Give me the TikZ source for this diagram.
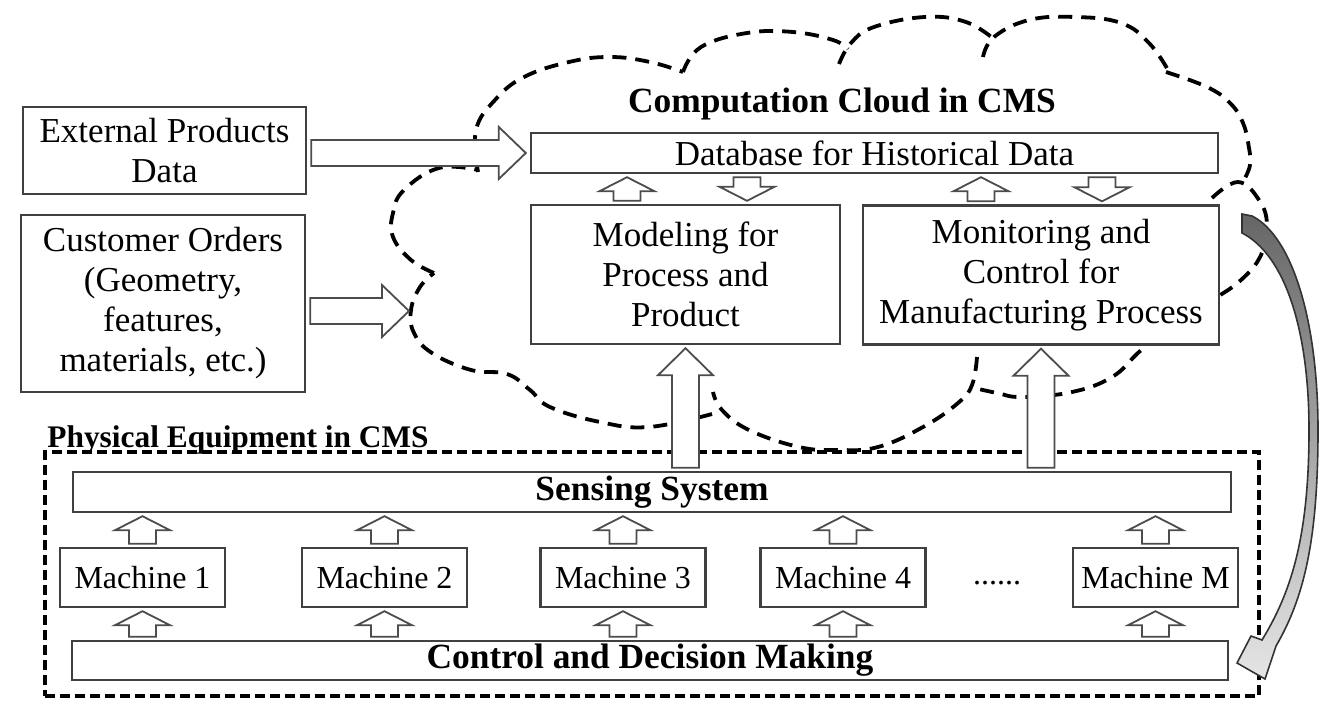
\documentclass[tikz,border=0pt]{standalone}
\usepackage{fontspec}
\setmainfont{Liberation Serif}
\usetikzlibrary{calc}
\newcommand{\harr}[2]{%
\draw[barrow] let \p1=#1, \p2=#2 in
 (\x1+2pt,\y2+6.5pt) -- (\x2-15.5pt,\y2+6.5pt) -- (\x2-15.5pt,\y2+13pt) -- (\x2-2pt,\y2)
 -- (\x2-15.5pt,\y2-13pt) -- (\x2-15.5pt,\y2-6.5pt) -- (\x1+2pt,\y2-6.5pt) -- cycle;}
\newcommand{\uarr}[3]{%
\draw[barrow] let \p1=#1, \p2=#2 in
 (\x1-6.75pt,\y1+1.5pt) -- (\x1-6.75pt,\y2-1.5pt-#3) -- (\x1-13.75pt,\y2-1.5pt-#3) -- (\x1,\y2-1.5pt)
 -- (\x1+13.75pt,\y2-1.5pt-#3) -- (\x1+6.75pt,\y2-1.5pt-#3) -- (\x1+6.75pt,\y1+1.5pt) -- cycle;}
\newcommand{\darr}[3]{%
\draw[barrow] let \p1=#1, \p2=#2 in
 (\x1-6.75pt,\y1-1.5pt) -- (\x1-6.75pt,\y2+1.5pt+#3) -- (\x1-13.75pt,\y2+1.5pt+#3) -- (\x1,\y2+1.5pt)
 -- (\x1+13.75pt,\y2+1.5pt+#3) -- (\x1+6.75pt,\y2+1.5pt+#3) -- (\x1+6.75pt,\y1-1.5pt) -- cycle;}
\begin{document}
\begin{tikzpicture}[x=0.5pt,y=-0.5pt,
  box/.style={draw=black!75, line width=1.2pt, fill=white, inner sep=0pt, align=center,
    font=\fontsize{17.5}{20}\selectfont},
  bbox/.style={box, font=\fontsize{17.7}{20}\selectfont\bfseries},
  mbox/.style={box, minimum width=82.5pt, minimum height=29.5pt, font=\fontsize{16}{18}\selectfont},
  barrow/.style={draw=black!70, line width=0.9pt, fill=white, line join=miter},
  cloudline/.style={draw=black, line width=1.9pt, dash pattern=on 7pt off 4.5pt, smooth, tension=0.7},
  physline/.style={draw=black, line width=1.9pt, dash pattern=on 5pt off 2.5pt, inner sep=0pt}]
\useasboundingbox (0,0) rectangle (1338,718);

% cloud outline (lobes)
\draw[cloudline] plot coordinates {(434,273) (411,260) (393,237) (393,213) (404,190) (439,168) (478,170)};
\draw[cloudline] plot coordinates {(478,172) (476,130) (495,100) (524,77) (569,62) (610,57) (650,62) (683,72)};
\draw[cloudline] plot coordinates {(683,72) (701,47) (747,33) (793,32) (833,40) (848,49)};
\draw[cloudline] plot coordinates {(839,64) (851,43) (874,27) (925,17) (966,22) (995,40)};
\draw[cloudline] plot coordinates {(983,57) (994,37) (1029,20) (1075,17) (1121,23) (1149,43) (1168,70)};
\draw[cloudline] plot coordinates {(1166,72) (1207,87) (1230,103) (1243,123) (1249,148) (1250,165) (1244,180)};
\draw[cloudline] plot coordinates {(1212,198) (1238,182) (1259,200) (1267,225) (1261,255) (1241,280) (1212,300) (1190,312)};
\draw[cloudline] plot coordinates {(1175,320) (1139,352) (1112,377) (1072,392) (1022,397) (997,393) (970,387)};
\draw[cloudline] plot coordinates {(977,357) (972,385) (958,403) (923,427) (878,447) (838,450) (799,447) (749,430) (722,410) (713,392)};
\draw[cloudline] plot coordinates {(712,414) (649,427) (600,422) (550,407) (530,390) (507,374) (471,370) (432,353) (414,333) (411,310) (420,287) (434,273)};

% left inputs
\node[box, minimum width=141.5pt, minimum height=43.5pt] (ext) at (164.5,150.5) {External Products\\Data};
\node[box, minimum width=142pt, minimum height=88.5pt] (cust) at (163,303.5) {Customer Orders\\(Geometry,\\features,\\materials, etc.)};

% cloud contents
\node[anchor=base, inner sep=0pt, font=\fontsize{17.7}{20}\selectfont\bfseries] (cloudlbl) at (842,112) {Computation Cloud in CMS};
\node[box, minimum width=343.5pt, minimum height=20pt] (db) at (874.5,153) {Database for Historical Data};
\node[box, minimum width=154.5pt, minimum height=69.5pt] (model) at (685.5,274.5) {Modeling for\\Process and\\Product};
\node[box, minimum width=178pt, minimum height=69.5pt] (monitor) at (1041,275) {Monitoring and\\Control for\\Manufacturing Process};

% physical equipment
\node[physline, draw, minimum width=607pt, minimum height=122pt] (phys) at (652,574) {};
\node[anchor=base west, inner sep=0pt, font=\fontsize{15.7}{18}\selectfont\bfseries] (physlbl) at (47,447) {Physical Equipment in CMS};
\node[bbox, minimum width=579pt, minimum height=20pt] (sens) at (652,492) {Sensing System};
\node[mbox] (m1) at (142.5,577.5) {Machine 1};
\node[mbox] (m2) at (384.5,577.5) {Machine 2};
\node[mbox] (m3) at (623,577.5) {Machine 3};
\node[mbox] (m4) at (843,577.5) {Machine 4};
\node[anchor=base, font=\fontsize{16}{18}\selectfont, inner sep=0pt] (dots) at (997,584) {......};
\node[mbox] (mM) at (1155.5,577.5) {Machine M};
\node[bbox, minimum width=578pt, minimum height=19.5pt] (ctrl) at (650,660.5) {Control and Decision Making};

% inputs to cloud
\coordinate (cin) at (413,311);
\harr{(ext.east)}{(db.west)}
\harr{(cust.east)}{(cin)}

% database <-> modules
\coordinate (a1) at ([xshift=-29.25pt]model.north);
\coordinate (a2) at ([xshift=30.75pt]model.north);
\coordinate (a3) at ([xshift=-30pt]monitor.north);
\coordinate (a4) at ([xshift=30.5pt]monitor.north);
\uarr{(a1)}{(a1 |- db.south)}{7pt}
\darr{(a2 |- db.south)}{(a2)}{7pt}
\uarr{(a3)}{(a3 |- db.south)}{7pt}
\darr{(a4 |- db.south)}{(a4)}{7pt}

% sensing -> modules
\uarr{(sens.north -| model.south)}{(model.south)}{13.5pt}
\uarr{(sens.north -| monitor.south)}{(monitor.south)}{13.5pt}

% machines -> sensing, control -> machines
\foreach \m in {m1,m2,m3,m4,mM}{
  \uarr{(\m.north)}{(\m.north |- sens.south)}{7pt}
  \uarr{(ctrl.north -| \m.south)}{(\m.south)}{7pt}
}

% feedback arrow cloud -> control
\path[draw=black!80, line width=0.8pt, top color=black!60, bottom color=black!10, line join=miter]
  (1242,214) -- (1252,216) .. controls (1292,236) and (1318,320) .. (1318,430)
  .. controls (1318,540) and (1304,598) .. (1276,646)
  -- (1265,679) -- (1237,663) -- (1251,636) -- (1262,640)
  .. controls (1290,594) and (1309,540) .. (1309,430)
  .. controls (1309,330) and (1285,255) .. (1242,233) -- cycle;
\end{tikzpicture}
\end{document}
